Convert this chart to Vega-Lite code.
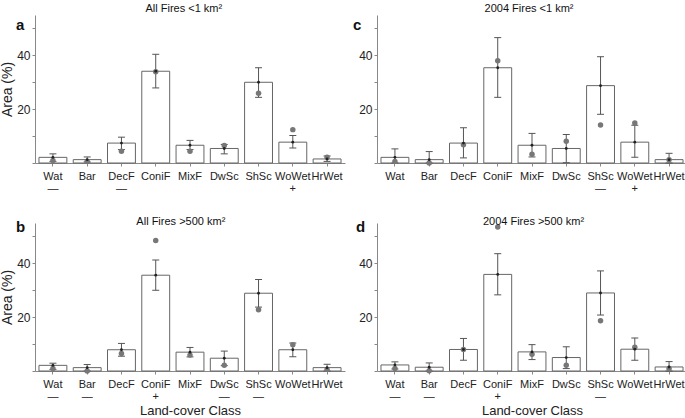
{
  "$schema": "https://vega.github.io/schema/vega-lite/v6.json",
  "padding": {"left": 0, "top": 3, "right": 0, "bottom": 0},
  "config": {
    "font": "Liberation Sans",
    "view": {"stroke": null},
    "title": {"fontSize": 11, "fontWeight": "normal", "color": "#111"},
    "axisX": {"domainColor": "#888", "tickColor": "#888", "tickSize": 3, "labelFontSize": 11, "labelColor": "#222", "labelPadding": 4, "labelAngle": 0, "labelLineHeight": 12, "titleFontSize": 13, "titleFontWeight": "normal", "titleColor": "#222", "titlePadding": 3, "grid": false},
    "axisY": {"domainColor": "#888", "tickColor": "#888", "tickSize": 3, "labelFontSize": 12, "labelColor": "#222", "labelPadding": 2, "titleFontSize": 14, "titleFontWeight": "normal", "titleColor": "#222", "titlePadding": 2, "grid": false, "values": [10, 20, 30, 40, 50], "labelExpr": "datum.value == 20 || datum.value == 40 ? datum.label : ''"}
  },
  "datasets": {
    "fires": [
      {"panel": "a", "cls": "Wat", "mean": 2.1, "lo": 0.6, "hi": 3.4, "obs": 0.9},
      {"panel": "a", "cls": "Bar", "mean": 1.25, "lo": 0.4, "hi": 2.25, "obs": 0.6},
      {"panel": "a", "cls": "DecF", "mean": 7.4, "lo": 5.0, "hi": 9.6, "obs": 4.4},
      {"panel": "a", "cls": "ConiF", "mean": 34.1, "lo": 27.9, "hi": 40.4, "obs": 33.9},
      {"panel": "a", "cls": "MixF", "mean": 6.6, "lo": 5.0, "hi": 8.4, "obs": 4.4},
      {"panel": "a", "cls": "DwSc", "mean": 5.4, "lo": 3.4, "hi": 6.9, "obs": 6.5},
      {"panel": "a", "cls": "ShSc", "mean": 30.0, "lo": 24.4, "hi": 35.4, "obs": 25.9},
      {"panel": "a", "cls": "WoWet", "mean": 7.75, "lo": 5.6, "hi": 10.25, "obs": 12.4},
      {"panel": "a", "cls": "HrWet", "mean": 1.5, "lo": 0.6, "hi": 2.6, "obs": 2.1},
      {"panel": "c", "cls": "Wat", "mean": 2.1, "lo": 0, "hi": 5.25, "obs": 0.6},
      {"panel": "c", "cls": "Bar", "mean": 1.25, "lo": 0, "hi": 4.25, "obs": 0},
      {"panel": "c", "cls": "DecF", "mean": 7.4, "lo": 1.9, "hi": 13.1, "obs": 6.75},
      {"panel": "c", "cls": "ConiF", "mean": 35.4, "lo": 24.4, "hi": 46.6, "obs": 38},
      {"panel": "c", "cls": "MixF", "mean": 6.6, "lo": 2.25, "hi": 11, "obs": 3.25},
      {"panel": "c", "cls": "DwSc", "mean": 5.4, "lo": 0.1, "hi": 10.6, "obs": 8.1},
      {"panel": "c", "cls": "ShSc", "mean": 28.75, "lo": 18.1, "hi": 39.5, "obs": 14.1},
      {"panel": "c", "cls": "WoWet", "mean": 7.75, "lo": 2.1, "hi": 14, "obs": 14.9},
      {"panel": "c", "cls": "HrWet", "mean": 1.25, "lo": 0, "hi": 3.6, "obs": 1.25},
      {"panel": "b", "cls": "Wat", "mean": 2.1, "lo": 0.6, "hi": 2.9, "obs": 0.9},
      {"panel": "b", "cls": "Bar", "mean": 1.25, "lo": 0, "hi": 2.4, "obs": 0},
      {"panel": "b", "cls": "DecF", "mean": 7.9, "lo": 5.5, "hi": 10.25, "obs": 6.5},
      {"panel": "b", "cls": "ConiF", "mean": 35.6, "lo": 30, "hi": 41.25, "obs": 48.5},
      {"panel": "b", "cls": "MixF", "mean": 7, "lo": 5.25, "hi": 8.75, "obs": 5.9},
      {"panel": "b", "cls": "DwSc", "mean": 4.75, "lo": 2, "hi": 7.4, "obs": 2.1},
      {"panel": "b", "cls": "ShSc", "mean": 28.9, "lo": 23.75, "hi": 34, "obs": 22.75},
      {"panel": "b", "cls": "WoWet", "mean": 7.9, "lo": 5.25, "hi": 10.4, "obs": 9.75},
      {"panel": "b", "cls": "HrWet", "mean": 1.25, "lo": 0, "hi": 2.5, "obs": 0.6},
      {"panel": "d", "cls": "Wat", "mean": 2.25, "lo": 0.75, "hi": 3.4, "obs": 0.9},
      {"panel": "d", "cls": "Bar", "mean": 1.4, "lo": 0, "hi": 3, "obs": 0.1},
      {"panel": "d", "cls": "DecF", "mean": 8, "lo": 4, "hi": 12.1, "obs": 8},
      {"panel": "d", "cls": "ConiF", "mean": 35.9, "lo": 28.3, "hi": 43.6, "obs": 53.5},
      {"panel": "d", "cls": "MixF", "mean": 7.1, "lo": 4.25, "hi": 9.8, "obs": 6.25},
      {"panel": "d", "cls": "DwSc", "mean": 5, "lo": 0.9, "hi": 9, "obs": 2.1},
      {"panel": "d", "cls": "ShSc", "mean": 29, "lo": 20.8, "hi": 37.2, "obs": 18.7},
      {"panel": "d", "cls": "WoWet", "mean": 8.1, "lo": 4, "hi": 12.3, "obs": 8.8},
      {"panel": "d", "cls": "HrWet", "mean": 1.5, "lo": 0, "hi": 3.5, "obs": 0.9}
    ]
  },
  "columns": 2,
  "spacing": {"row": 23, "column": 8},
  "concat": [
    {
      "title": {"text": "All Fires <1 km²", "anchor": "middle", "frame": "bounds", "dx": 11, "offset": 1},
      "vconcat": [{
        "title": {"text": "a", "anchor": "start", "frame": "group", "dx": -19, "dy": 18, "fontSize": 15, "fontWeight": "bold", "offset": 0},
        "width": 310, "height": 148,
        "data": {"name": "fires"},
        "transform": [{"filter": "datum.panel == 'a'"}],
        "encoding": {"x": {"field": "cls", "type": "nominal", "sort": ["Wat","Bar","DecF","ConiF","MixF","DwSc","ShSc","WoWet","HrWet"], "scale": {"paddingInner": 0.186, "paddingOuter": 0.116}, "axis": {"title": null, "labelExpr": "datum.value == 'Wat' || datum.value == 'DecF' ? [datum.label, '—'] : datum.value == 'WoWet' ? [datum.label, '+'] : datum.label"}}},
        "layer": [
          {"mark": {"type": "bar", "fill": "white", "stroke": "#666", "strokeWidth": 1}, "encoding": {"y": {"field": "mean", "type": "quantitative", "title": "Area (%)", "scale": {"domain": [0, 55], "nice": false}}}},
          {"mark": {"type": "rule", "color": "#555"}, "encoding": {"y": {"field": "lo", "type": "quantitative", "title": "Area (%)"}, "y2": {"field": "hi"}}},
          {"mark": {"type": "tick", "orient": "horizontal", "color": "#555", "size": 7, "thickness": 1, "opacity": 1}, "encoding": {"y": {"field": "hi", "type": "quantitative", "title": "Area (%)"}}},
          {"mark": {"type": "tick", "orient": "horizontal", "color": "#555", "size": 7, "thickness": 1, "opacity": 1}, "encoding": {"y": {"field": "lo", "type": "quantitative", "title": "Area (%)"}}},
          {"mark": {"type": "point", "shape": "circle", "filled": true, "color": "#777", "size": 30, "opacity": 1}, "encoding": {"y": {"field": "obs", "type": "quantitative", "title": "Area (%)"}}},
          {"mark": {"type": "point", "shape": "circle", "filled": true, "color": "#222", "size": 8, "opacity": 1}, "encoding": {"y": {"field": "mean", "type": "quantitative", "title": "Area (%)"}}}
        ]
      }]
    },
    {
      "title": {"text": "2004 Fires <1 km²", "anchor": "middle", "frame": "bounds", "dx": 9, "offset": 1},
      "vconcat": [{
        "title": {"text": "c", "anchor": "start", "frame": "group", "dx": -24, "dy": 18, "fontSize": 15, "fontWeight": "bold", "offset": 0},
        "width": 310, "height": 148,
        "data": {"name": "fires"},
        "transform": [{"filter": "datum.panel == 'c'"}],
        "encoding": {"x": {"field": "cls", "type": "nominal", "sort": ["Wat","Bar","DecF","ConiF","MixF","DwSc","ShSc","WoWet","HrWet"], "scale": {"paddingInner": 0.186, "paddingOuter": 0.116}, "axis": {"title": null, "labelExpr": "datum.value == 'ShSc' ? [datum.label, '—'] : datum.value == 'WoWet' ? [datum.label, '+'] : datum.label"}}},
        "layer": [
          {"mark": {"type": "bar", "fill": "white", "stroke": "#666", "strokeWidth": 1}, "encoding": {"y": {"field": "mean", "type": "quantitative", "title": null, "scale": {"domain": [0, 55], "nice": false}}}},
          {"mark": {"type": "rule", "color": "#555"}, "encoding": {"y": {"field": "lo", "type": "quantitative", "title": null}, "y2": {"field": "hi"}}},
          {"mark": {"type": "tick", "orient": "horizontal", "color": "#555", "size": 7, "thickness": 1, "opacity": 1}, "encoding": {"y": {"field": "hi", "type": "quantitative", "title": null}}},
          {"mark": {"type": "tick", "orient": "horizontal", "color": "#555", "size": 7, "thickness": 1, "opacity": 1}, "encoding": {"y": {"field": "lo", "type": "quantitative", "title": null}}},
          {"mark": {"type": "point", "shape": "circle", "filled": true, "color": "#777", "size": 30, "opacity": 1}, "encoding": {"y": {"field": "obs", "type": "quantitative", "title": null}}},
          {"mark": {"type": "point", "shape": "circle", "filled": true, "color": "#222", "size": 8, "opacity": 1}, "encoding": {"y": {"field": "mean", "type": "quantitative", "title": null}}}
        ]
      }]
    },
    {
      "title": {"text": "All Fires >500 km²", "anchor": "middle", "frame": "bounds", "dx": 8, "offset": -7},
      "vconcat": [{
        "title": {"text": "b", "anchor": "start", "frame": "group", "dx": -19, "dy": 12, "fontSize": 15, "fontWeight": "bold", "offset": 0},
        "width": 310, "height": 148,
        "data": {"name": "fires"},
        "transform": [{"filter": "datum.panel == 'b'"}],
        "encoding": {"x": {"field": "cls", "type": "nominal", "sort": ["Wat","Bar","DecF","ConiF","MixF","DwSc","ShSc","WoWet","HrWet"], "scale": {"paddingInner": 0.186, "paddingOuter": 0.116}, "axis": {"title": "Land-cover Class", "labelExpr": "indexof(['Wat','Bar','DwSc','ShSc'], datum.value) >= 0 ? [datum.label, '—'] : datum.value == 'ConiF' ? [datum.label, '+'] : datum.label"}}},
        "layer": [
          {"mark": {"type": "bar", "fill": "white", "stroke": "#666", "strokeWidth": 1}, "encoding": {"y": {"field": "mean", "type": "quantitative", "title": "Area (%)", "scale": {"domain": [0, 55], "nice": false}}}},
          {"mark": {"type": "rule", "color": "#555"}, "encoding": {"y": {"field": "lo", "type": "quantitative", "title": "Area (%)"}, "y2": {"field": "hi"}}},
          {"mark": {"type": "tick", "orient": "horizontal", "color": "#555", "size": 7, "thickness": 1, "opacity": 1}, "encoding": {"y": {"field": "hi", "type": "quantitative", "title": "Area (%)"}}},
          {"mark": {"type": "tick", "orient": "horizontal", "color": "#555", "size": 7, "thickness": 1, "opacity": 1}, "encoding": {"y": {"field": "lo", "type": "quantitative", "title": "Area (%)"}}},
          {"mark": {"type": "point", "shape": "circle", "filled": true, "color": "#777", "size": 30, "opacity": 1}, "encoding": {"y": {"field": "obs", "type": "quantitative", "title": "Area (%)"}}},
          {"mark": {"type": "point", "shape": "circle", "filled": true, "color": "#222", "size": 8, "opacity": 1}, "encoding": {"y": {"field": "mean", "type": "quantitative", "title": "Area (%)"}}}
        ]
      }]
    },
    {
      "title": {"text": "2004 Fires >500 km²", "anchor": "middle", "frame": "bounds", "dx": 12, "offset": -7},
      "vconcat": [{
        "title": {"text": "d", "anchor": "start", "frame": "group", "dx": -21, "dy": 12, "fontSize": 15, "fontWeight": "bold", "offset": 0},
        "width": 310, "height": 148,
        "data": {"name": "fires"},
        "transform": [{"filter": "datum.panel == 'd'"}],
        "encoding": {"x": {"field": "cls", "type": "nominal", "sort": ["Wat","Bar","DecF","ConiF","MixF","DwSc","ShSc","WoWet","HrWet"], "scale": {"paddingInner": 0.186, "paddingOuter": 0.116}, "axis": {"title": "Land-cover Class", "labelExpr": "indexof(['Wat','Bar','ShSc'], datum.value) >= 0 ? [datum.label, '—'] : datum.value == 'ConiF' ? [datum.label, '+'] : datum.label"}}},
        "layer": [
          {"mark": {"type": "bar", "fill": "white", "stroke": "#666", "strokeWidth": 1}, "encoding": {"y": {"field": "mean", "type": "quantitative", "title": null, "scale": {"domain": [0, 55], "nice": false}}}},
          {"mark": {"type": "rule", "color": "#555"}, "encoding": {"y": {"field": "lo", "type": "quantitative", "title": null}, "y2": {"field": "hi"}}},
          {"mark": {"type": "tick", "orient": "horizontal", "color": "#555", "size": 7, "thickness": 1, "opacity": 1}, "encoding": {"y": {"field": "hi", "type": "quantitative", "title": null}}},
          {"mark": {"type": "tick", "orient": "horizontal", "color": "#555", "size": 7, "thickness": 1, "opacity": 1}, "encoding": {"y": {"field": "lo", "type": "quantitative", "title": null}}},
          {"mark": {"type": "point", "shape": "circle", "filled": true, "color": "#777", "size": 30, "opacity": 1}, "encoding": {"y": {"field": "obs", "type": "quantitative", "title": null}}},
          {"mark": {"type": "point", "shape": "circle", "filled": true, "color": "#222", "size": 8, "opacity": 1}, "encoding": {"y": {"field": "mean", "type": "quantitative", "title": null}}}
        ]
      }]
    }
  ]
}
